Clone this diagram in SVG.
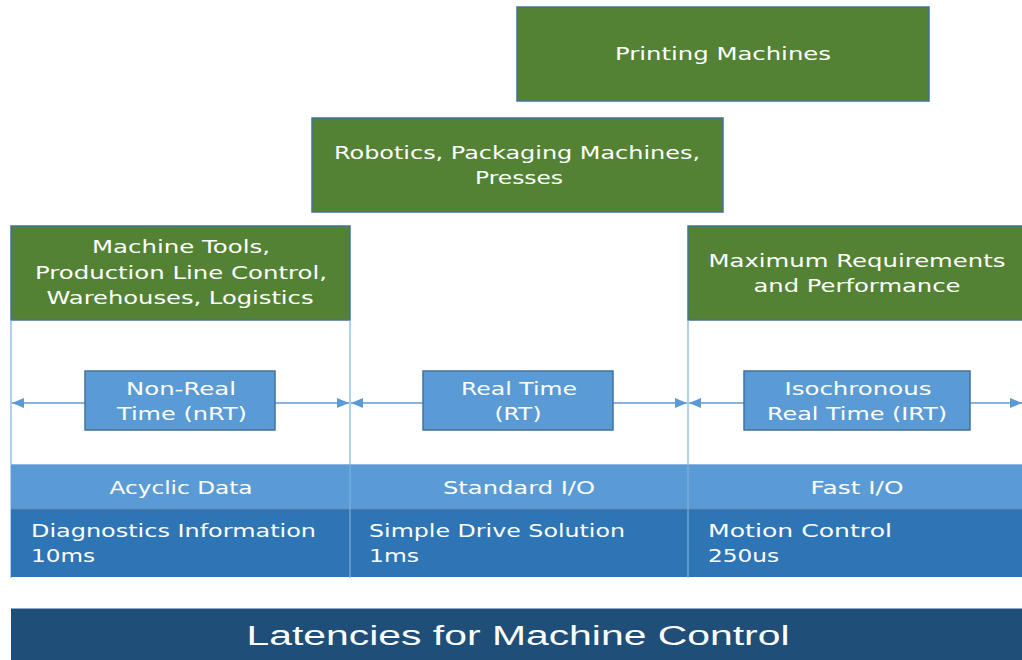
<svg xmlns="http://www.w3.org/2000/svg" width="1022" height="660" viewBox="0 0 1022 660">
  <style>
    .app { fill: #548235; stroke: #41719c; stroke-width: 1.5; }
    .cls { fill: #5b9bd5; stroke: #41719c; stroke-width: 1.5; }
    .row1 { fill: #5b9bd5; }
    .row2 { fill: #2e75b6; }
    .sep { stroke: #7fb0de; stroke-width: 1.2; fill: none; }
    .txt { font-family: "DejaVu Sans", "Open Sans", sans-serif; font-size: 18px; fill: #ffffff; }
    .mid { text-anchor: middle; }
    .title { font-family: "Liberation Sans", Arial, sans-serif; font-size: 27px; fill: #ffffff; text-anchor: middle; }
    .arrow { stroke: #5b9bd5; stroke-width: 1.5; fill: none; }
  </style>
  <defs>
    <marker id="tip" viewBox="0 0 12 10" refX="12" refY="5" markerWidth="12" markerHeight="10" markerUnits="userSpaceOnUse" orient="auto-start-reverse">
      <path d="M0,0 L12,5 L0,10 Z" fill="#5b9bd5"/>
    </marker>
  </defs>

  <rect width="1022" height="660" fill="#ffffff"/>

  <!-- application areas -->
  <g id="printing">
    <rect class="app" x="517" y="7" width="412" height="94"/>
    <text class="txt mid" x="723" y="60" textLength="216" lengthAdjust="spacingAndGlyphs">Printing Machines</text>
  </g>
  <g id="robotics">
    <rect class="app" x="312" y="118" width="411" height="94"/>
    <text class="txt mid" x="517" y="159" textLength="366" lengthAdjust="spacingAndGlyphs">Robotics, Packaging Machines,</text>
    <text class="txt mid" x="519" y="184" textLength="88" lengthAdjust="spacingAndGlyphs">Presses</text>
  </g>
  <g id="machine-tools">
    <rect class="app" x="11" y="226" width="339" height="94"/>
    <text class="txt mid" x="181" y="253" textLength="178" lengthAdjust="spacingAndGlyphs">Machine Tools,</text>
    <text class="txt mid" x="181" y="279" textLength="292" lengthAdjust="spacingAndGlyphs">Production Line Control,</text>
    <text class="txt mid" x="180" y="304" textLength="267" lengthAdjust="spacingAndGlyphs">Warehouses, Logistics</text>
  </g>
  <g id="maximum">
    <rect class="app" x="688" y="226" width="340" height="94"/>
    <text class="txt mid" x="857" y="267" textLength="297" lengthAdjust="spacingAndGlyphs">Maximum Requirements</text>
    <text class="txt mid" x="857" y="292" textLength="207" lengthAdjust="spacingAndGlyphs">and Performance</text>
  </g>

  <!-- boundaries and ranges -->
  <g id="connectors">
    <line class="sep" x1="11" y1="320" x2="11" y2="578"/>
    <line class="sep" x1="350" y1="320" x2="350" y2="578"/>
    <line class="sep" x1="688" y1="320" x2="688" y2="578"/>
    <line class="arrow" x1="12" y1="403" x2="349" y2="403" marker-start="url(#tip)" marker-end="url(#tip)"/>
    <line class="arrow" x1="351" y1="403" x2="687" y2="403" marker-start="url(#tip)" marker-end="url(#tip)"/>
    <line class="arrow" x1="689" y1="403" x2="1022" y2="403" marker-start="url(#tip)" marker-end="url(#tip)"/>
  </g>

  <!-- communication classes -->
  <g id="nrt">
    <rect class="cls" x="85" y="371" width="190" height="59"/>
    <text class="txt mid" x="181" y="395" textLength="110" lengthAdjust="spacingAndGlyphs">Non-Real</text>
    <text class="txt mid" x="182" y="420" textLength="130" lengthAdjust="spacingAndGlyphs">Time (nRT)</text>
  </g>
  <g id="rt">
    <rect class="cls" x="423" y="371" width="190" height="59"/>
    <text class="txt mid" x="519" y="395" textLength="116" lengthAdjust="spacingAndGlyphs">Real Time</text>
    <text class="txt mid" x="518" y="420" textLength="47" lengthAdjust="spacingAndGlyphs">(RT)</text>
  </g>
  <g id="irt">
    <rect class="cls" x="744" y="371" width="226" height="59"/>
    <text class="txt mid" x="858" y="395" textLength="147" lengthAdjust="spacingAndGlyphs">Isochronous</text>
    <text class="txt mid" x="857" y="420" textLength="180" lengthAdjust="spacingAndGlyphs">Real Time (IRT)</text>
  </g>

  <!-- data categories -->
  <g id="acyclic">
    <rect class="row1" x="11" y="464" width="339" height="46"/>
    <text class="txt mid" x="181" y="494" textLength="143" lengthAdjust="spacingAndGlyphs">Acyclic Data</text>
  </g>
  <g id="standard-io">
    <rect class="row1" x="350" y="464" width="338" height="46"/>
    <text class="txt mid" x="519" y="494" textLength="152" lengthAdjust="spacingAndGlyphs">Standard I/O</text>
  </g>
  <g id="fast-io">
    <rect class="row1" x="688" y="464" width="334" height="46"/>
    <text class="txt mid" x="857" y="494" textLength="93" lengthAdjust="spacingAndGlyphs">Fast I/O</text>
  </g>
  <line x1="11" y1="464.5" x2="1022" y2="464.5" stroke="#8db8e2" stroke-width="1"/>

  <!-- applications and cycle times -->
  <g id="diagnostics">
    <rect class="row2" x="11" y="510" width="339" height="67"/>
    <text class="txt" x="31" y="537" textLength="285" lengthAdjust="spacingAndGlyphs">Diagnostics Information</text>
    <text class="txt" x="31" y="562" textLength="64" lengthAdjust="spacingAndGlyphs">10ms</text>
  </g>
  <g id="simple-drive">
    <rect class="row2" x="350" y="510" width="338" height="67"/>
    <text class="txt" x="369" y="537" textLength="256" lengthAdjust="spacingAndGlyphs">Simple Drive Solution</text>
    <text class="txt" x="369" y="562" textLength="50" lengthAdjust="spacingAndGlyphs">1ms</text>
  </g>
  <g id="motion-control">
    <rect class="row2" x="688" y="510" width="334" height="67"/>
    <text class="txt" x="708" y="537" textLength="184" lengthAdjust="spacingAndGlyphs">Motion Control</text>
    <text class="txt" x="708" y="562" textLength="71" lengthAdjust="spacingAndGlyphs">250us</text>
  </g>
  <line x1="11" y1="510" x2="1022" y2="510" stroke="#3f6f9f" stroke-width="1.5"/>
  <line x1="350" y1="464" x2="350" y2="577" stroke="#7fb0de" stroke-width="1.2"/>
  <line x1="688" y1="464" x2="688" y2="577" stroke="#7fb0de" stroke-width="1.2"/>

  <!-- title bar -->
  <g id="title">
    <rect x="11" y="608" width="1011" height="52" fill="#1f4e79"/>
    <line x1="11" y1="608.5" x2="1022" y2="608.5" stroke="#8fa9c4" stroke-width="1"/>
    <text class="title" x="518" y="645" textLength="543" lengthAdjust="spacingAndGlyphs">Latencies for Machine Control</text>
  </g>
</svg>
